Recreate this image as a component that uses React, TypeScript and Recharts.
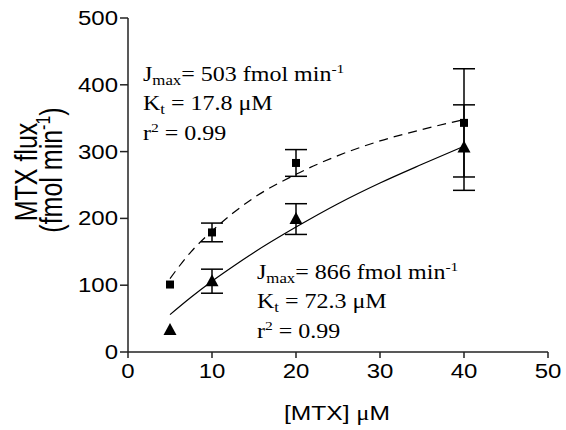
import React from "react";
import {
  ComposedChart,
  Line,
  Scatter,
  ErrorBar,
  XAxis,
  YAxis,
} from "recharts";

const concentrations = [5, 10, 20, 40];
const squareFlux = [101, 179, 283, 343];
const squareSem = [null, 14, 20, 81];
const triangleFlux = [33, 106, 199, 306];
const triangleSem = [null, 18, 23, 64];

// fitted curves
const fitX = [5, 7.5, 10, 12.5, 15, 20, 25, 30, 35, 40];
const dashedFit = [110, 150, 181, 208, 231, 266, 294, 316, 333, 348];
const solidFit = [56, 82, 106, 128, 149, 187, 222, 253, 281, 308];

const xTicks = [0, 10, 20, 30, 40, 50];
const yTicks = [0, 100, 200, 300, 400, 500];

const squares = concentrations.map((x, i) => ({ x, y: squareFlux[i], err: squareSem[i] }));
const triangles = concentrations.map((x, i) => ({ x, y: triangleFlux[i], err: triangleSem[i] }));
const dashedLine = fitX.map((x, i) => ({ x, y: dashedFit[i] }));
const solidLine = fitX.map((x, i) => ({ x, y: solidFit[i] }));

const AXIS = "#222";
const SANS = "Arial, 'Liberation Sans', sans-serif";
const SERIF = "'Times New Roman', 'Liberation Serif', serif";
// the original figure is stretched sideways, so text is too
const SX = 1.23;

const SquareDot = (props: any) => {
  const { cx, cy } = props;
  return <rect x={cx - 4} y={cy - 4} width={8} height={8} fill="#000" />;
};

const TriangleDot = (props: any) => {
  const { cx, cy } = props;
  return (
    <polygon
      points={`${cx},${cy - 7} ${cx + 6.5},${cy + 5} ${cx - 6.5},${cy + 5}`}
      fill="#000"
    />
  );
};

const XTick = (props: any) => {
  const { x, y, payload } = props;
  return (
    <text
      transform={`translate(${x},${y + 14}) scale(${SX},1)`}
      textAnchor="middle"
      fontFamily={SANS}
      fontSize={19.5}
      fill="#000"
    >
      {payload.value}
    </text>
  );
};

const YTick = (props: any) => {
  const { x, y, payload } = props;
  return (
    <text
      transform={`translate(${x},${y + 7}) scale(${SX},1)`}
      textAnchor="end"
      fontFamily={SANS}
      fontSize={19.5}
      fill="#000"
    >
      {payload.value}
    </text>
  );
};

function Annotation({ x, y, jmax, kt }: { x: number; y: number; jmax: string; kt: string }) {
  const sx = 1.2;
  return (
    <g fontFamily={SERIF} fontSize={20} fill="#000">
      <text transform={`translate(${x},${y}) scale(${sx},1)`}>
        J<tspan fontSize={14} dy={4}>max</tspan>
        <tspan dy={-4}>= {jmax} fmol min</tspan>
        <tspan fontSize={13} dy={-8}>-1</tspan>
      </text>
      <text transform={`translate(${x},${y + 29}) scale(${sx},1)`}>
        K<tspan fontSize={14} dy={4}>t</tspan>
        <tspan dy={-4}> = {kt} μM</tspan>
      </text>
      <text transform={`translate(${x},${y + 59}) scale(${sx},1)`}>
        r<tspan fontSize={13} dy={-8}>2</tspan>
        <tspan dy={8}> = 0.99</tspan>
      </text>
    </g>
  );
}

export default function App() {
  return (
    <div style={{ position: "absolute", left: 0, top: 0, width: 566, height: 430, background: "#fff" }}>
      <ComposedChart
        width={566}
        height={430}
        margin={{ top: 18, right: 18, left: 0, bottom: 0 }}
      >
        <XAxis
          dataKey="x"
          type="number"
          domain={[0, 50]}
          ticks={xTicks}
          height={78}
          tickSize={6}
          tickMargin={6}
          stroke={AXIS}
          strokeWidth={1.5}
          tick={<XTick />}
          allowDataOverflow
        />
        <YAxis
          dataKey="y"
          type="number"
          domain={[0, 500]}
          ticks={yTicks}
          width={128}
          tickSize={8}
          tickMargin={2}
          stroke={AXIS}
          strokeWidth={1.5}
          tick={<YTick />}
          allowDataOverflow
        />
        <Line
          data={dashedLine}
          dataKey="y"
          type="monotone"
          stroke="#000"
          strokeWidth={1.2}
          strokeDasharray="9 6"
          dot={false}
          activeDot={false}
          isAnimationActive={false}
        />
        <Line
          data={solidLine}
          dataKey="y"
          type="monotone"
          stroke="#000"
          strokeWidth={1.2}
          dot={false}
          activeDot={false}
          isAnimationActive={false}
        />
        <Scatter data={squares} dataKey="y" shape={SquareDot} isAnimationActive={false}>
          <ErrorBar dataKey="err" direction="y" width={11} stroke="#000" strokeWidth={1.5} />
        </Scatter>
        <Scatter data={triangles} dataKey="y" shape={TriangleDot} isAnimationActive={false}>
          <ErrorBar dataKey="err" direction="y" width={11} stroke="#000" strokeWidth={1.5} />
        </Scatter>
      </ComposedChart>
      <svg
        width={566}
        height={430}
        style={{ position: "absolute", left: 0, top: 0, pointerEvents: "none" }}
      >
        <Annotation x={143} y={81} jmax="503" kt="17.8" />
        <Annotation x={257} y={279} jmax="866" kt="72.3" />
        <text
          transform={`translate(337,420) scale(${SX},1)`}
          textAnchor="middle"
          fontFamily={SANS}
          fontSize={20}
          fill="#000"
        >
          [MTX] <tspan fontFamily={SERIF}>μ</tspan>M
        </text>
        <g fontFamily={SANS} fontSize={25} fill="#000" textAnchor="middle">
          <text transform={`translate(37,172) scale(${SX},1) rotate(-90)`}>MTX flux</text>
          <text transform={`translate(62,170) scale(${SX},1) rotate(-90)`}>
            (fmol min<tspan fontSize={16} dy={-10}>-1</tspan>
            <tspan dy={10}>)</tspan>
          </text>
        </g>
      </svg>
    </div>
  );
}
